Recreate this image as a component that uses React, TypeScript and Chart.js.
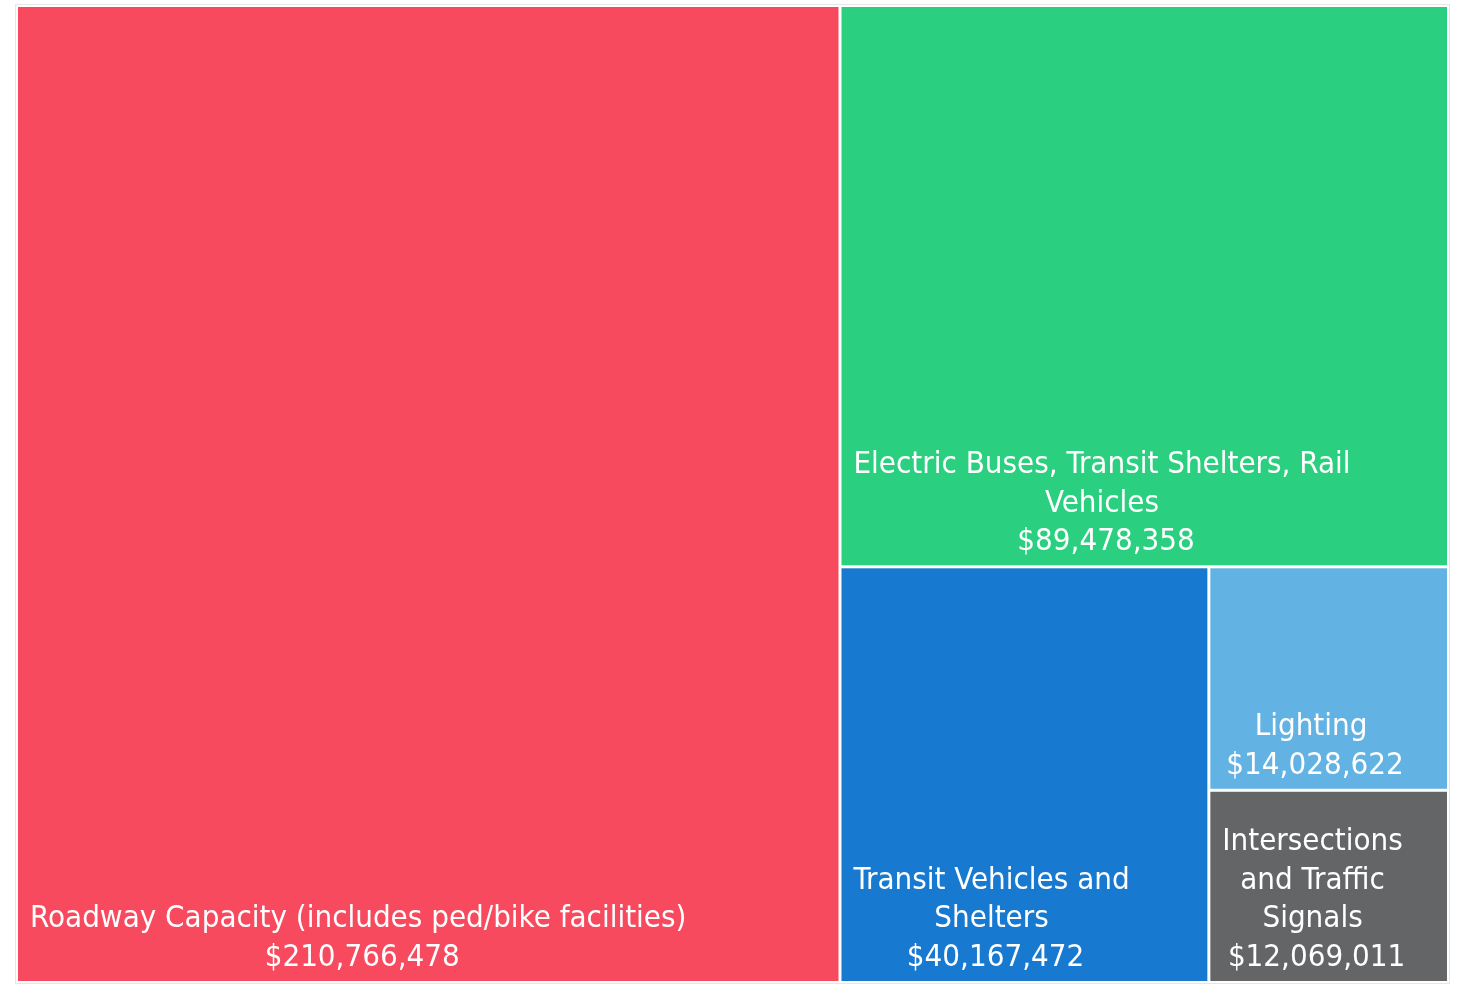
import React, { useEffect, useRef } from "react";
import { Chart, registerables } from "chart.js";

Chart.register(...registerables);

// ---- data ----
const categories: string[] = [
  "Roadway Capacity (includes ped/bike facilities)",
  "Electric Buses, Transit Shelters, Rail\nVehicles",
  "Transit Vehicles and\nShelters",
  "Lighting",
  "Intersections\nand Traffic\nSignals",
];
const values: number[] = [210766478, 89478358, 40167472, 14028622, 12069011];
const colors: string[] = ["#F74A5F", "#2AD07F", "#1779CF", "#62B2E3", "#646567"];

type R = { x: number; y: number; w: number; h: number };

function worst(row: number[], side: number): number {
  const s = row.reduce((a, b) => a + b, 0);
  const mx = Math.max(...row);
  const mn = Math.min(...row);
  return Math.max((side * side * mx) / (s * s), (s * s) / (side * side * mn));
}

function squarify(areas: number[], x: number, y: number, w: number, h: number): R[] {
  const rects: R[] = [];
  let i = 0;
  while (i < areas.length) {
    const side = Math.min(w, h);
    let row = [areas[i]];
    let j = i + 1;
    while (j < areas.length) {
      const next = [...row, areas[j]];
      if (worst(next, side) <= worst(row, side)) {
        row = next;
        j++;
      } else break;
    }
    const s = row.reduce((a, b) => a + b, 0);
    if (w >= h) {
      const cw = s / h;
      let cy = y;
      row.forEach((a) => {
        const rh = a / cw;
        rects.push({ x, y: cy, w: cw, h: rh });
        cy += rh;
      });
      x += cw;
      w -= cw;
    } else {
      const rh = s / w;
      let cx = x;
      row.forEach((a) => {
        const rw = a / rh;
        rects.push({ x: cx, y, w: rw, h: rh });
        cx += rw;
      });
      y += rh;
      h -= rh;
    }
    i = j;
  }
  return rects;
}

const fmt = (v: number) => "$" + v.toLocaleString("en-US");

const treemapPlugin = {
  id: "treemapCells",
  afterDatasetsDraw(chart: any) {
    const { ctx, chartArea } = chart;
    const xs = chart.scales.x;
    const ys = chart.scales.y;
    const W = chartArea.width;
    const H = chartArea.height;
    const total = values.reduce((a, b) => a + b, 0);
    const areas = values.map((v) => (v / total) * W * H);
    const cells = squarify(areas, 0, 0, W, H);

    ctx.save();
    // outer frame
    ctx.strokeStyle = "#e6e6e6";
    ctx.lineWidth = 1;
    ctx.strokeRect(
      xs.getPixelForValue(0) - 1,
      ys.getPixelForValue(0) - 1,
      xs.getPixelForValue(1) - xs.getPixelForValue(0) + 2,
      ys.getPixelForValue(1) - ys.getPixelForValue(0) + 2
    );

    const gap = 1.5;
    cells.forEach((c, k) => {
      const l = xs.getPixelForValue(c.x / W) + gap;
      const r = xs.getPixelForValue((c.x + c.w) / W) - gap;
      const t = ys.getPixelForValue(c.y / H) + gap;
      const b = ys.getPixelForValue((c.y + c.h) / H) - gap;
      ctx.fillStyle = colors[k];
      ctx.fillRect(l, t, r - l, b - t);

      const lines = categories[k].split("\n").concat([fmt(values[k])]);
      ctx.font = "31px 'DejaVu Sans Condensed'";
      ctx.fillStyle = "#ffffff";
      ctx.textAlign = "center";
      ctx.textBaseline = "alphabetic";
      const bw = Math.max(...lines.map((s) => ctx.measureText(s).width));
      const cx = l + 12 + bw / 2;
      const lh = 38.6;
      lines.forEach((s, i) => {
        const yy = b - 15 - (lines.length - 1 - i) * lh;
        ctx.fillText(s, cx + (i === lines.length - 1 ? 4 : 0), yy);
      });
    });
    ctx.restore();
  },
};

export default function App() {
  const ref = useRef<HTMLCanvasElement | null>(null);
  useEffect(() => {
    if (!ref.current) return;
    const chart = new Chart(ref.current, {
      type: "scatter",
      data: { datasets: [{ data: [] }] },
      options: {
        animation: false,
        responsive: true,
        maintainAspectRatio: false,
        layout: { padding: { left: 16.5, right: 12.5, top: 5.5, bottom: 4.5 } },
        scales: {
          x: { type: "linear", min: 0, max: 1, display: false },
          y: { type: "linear", min: 0, max: 1, reverse: true, display: false },
        },
        plugins: { legend: { display: false }, tooltip: { enabled: false } },
      },
      plugins: [treemapPlugin],
    });
    return () => chart.destroy();
  }, []);
  return (
    <div style={{ position: "fixed", left: 0, top: 0, width: 1461, height: 987, background: "#fff" }}>
      <canvas ref={ref} />
    </div>
  );
}
